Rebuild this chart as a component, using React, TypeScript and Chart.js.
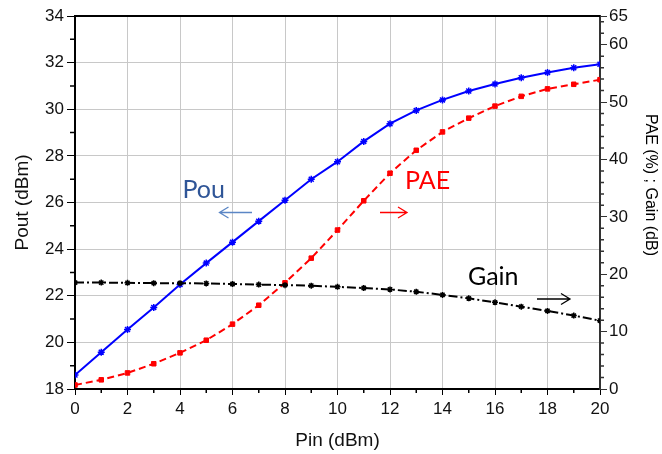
import React, { useEffect, useRef } from "react";
import { Chart, registerables } from "chart.js";

Chart.register(...registerables);

const pinValues = [0, 1, 2, 3, 4, 5, 6, 7, 8, 9, 10, 11, 12, 13, 14, 15, 16, 17, 18, 19, 20];
const poutValues = [18.6, 19.58, 20.55, 21.5, 22.48, 23.4, 24.3, 25.2, 26.1, 27.0, 27.75, 28.62, 29.38, 29.95, 30.4, 30.78, 31.08, 31.35, 31.58, 31.78, 31.93];
const paeValues = [0.7, 1.6, 2.8, 4.4, 6.3, 8.5, 11.3, 14.6, 18.5, 22.8, 27.7, 32.8, 37.6, 41.6, 44.8, 47.2, 49.3, 51.0, 52.3, 53.1, 53.9];
const gainValues = [18.55, 18.55, 18.5, 18.45, 18.45, 18.4, 18.3, 18.2, 18.1, 18.0, 17.8, 17.6, 17.35, 16.95, 16.4, 15.8, 15.1, 14.35, 13.6, 12.8, 11.9];

const xTickValues = [0, 2, 4, 6, 8, 10, 12, 14, 16, 18, 20];
const leftTickValues = [18, 20, 22, 24, 26, 28, 30, 32, 34];
const rightTickValues = [0, 10, 20, 30, 40, 50, 60, 65];
const xMinorTicks = [1, 3, 5, 7, 9, 11, 13, 15, 17, 19];
const leftMinorTicks = [19, 21, 23, 25, 27, 29, 31, 33];
const rightMinorTicks = [2, 4, 6, 8, 12, 14, 16, 18, 22, 24, 26, 28, 32, 34, 36, 38, 42, 44, 46, 48, 52, 54, 56, 58, 62, 64];

const TICK_FONT = { family: "'Liberation Sans', Arial, sans-serif", size: 17 };
const TITLE_FONT = { family: "'Liberation Sans', Arial, sans-serif", size: 19 };

function drawArrow(ctx: CanvasRenderingContext2D, x1: number, x2: number, y: number, color: string, headLeft: boolean) {
  ctx.save();
  ctx.strokeStyle = color;
  ctx.lineWidth = 1.3;
  ctx.setLineDash([]);
  ctx.beginPath();
  ctx.moveTo(x1, y);
  ctx.lineTo(x2, y);
  const hx = headLeft ? x1 : x2;
  const d = headLeft ? 9 : -9;
  ctx.moveTo(hx + d, y - 5.5);
  ctx.lineTo(hx, y);
  ctx.lineTo(hx + d, y + 5.5);
  ctx.stroke();
  ctx.restore();
}

const overlayPlugin = {
  id: "overlay",
  afterDraw(chart: any) {
    const ctx: CanvasRenderingContext2D = chart.ctx;
    const { left, right, top, bottom } = chart.chartArea;
    const xs = chart.scales.x;
    const ys = chart.scales.y;
    const y2 = chart.scales.y2;
    ctx.save();
    // top frame
    ctx.strokeStyle = "#000";
    ctx.lineWidth = 2;
    ctx.beginPath();
    ctx.moveTo(left, top);
    ctx.lineTo(right, top);
    ctx.stroke();
    // minor ticks
    ctx.lineWidth = 1.5;
    ctx.strokeStyle = "#000";
    ctx.beginPath();
    xMinorTicks.forEach((v) => {
      const px = xs.getPixelForValue(v);
      ctx.moveTo(px, bottom);
      ctx.lineTo(px, bottom + 4);
    });
    ctx.stroke();
    ctx.beginPath();
    leftMinorTicks.forEach((v) => {
      const py = ys.getPixelForValue(v);
      ctx.moveTo(left, py);
      ctx.lineTo(left - 5, py);
    });
    ctx.stroke();
    ctx.strokeStyle = "#333";
    ctx.beginPath();
    rightMinorTicks.forEach((v) => {
      const py = y2.getPixelForValue(v);
      ctx.moveTo(right, py);
      ctx.lineTo(right + 4, py);
    });
    ctx.stroke();

    // right title
    ctx.save();
    ctx.translate(650, 185);
    ctx.rotate(Math.PI / 2);
    ctx.fillStyle = "#000";
    ctx.font = "16px 'Liberation Sans', Arial, sans-serif";
    ctx.textAlign = "center";
    ctx.textBaseline = "middle";
    ctx.fillText("PAE (%) ; Gain (dB)", 0, 0);
    ctx.restore();

    // annotations
    ctx.font = "25px Lato, 'Open Sans', sans-serif";
    ctx.textAlign = "left";
    ctx.textBaseline = "alphabetic";
    ctx.fillStyle = "#2F5597";
    ctx.fillText("Pou", 182.5, 197.5);
    ctx.fillStyle = "#FF0000";
    ctx.fillText("PAE", 405, 188.5);
    ctx.fillStyle = "#000000";
    ctx.fillText("Gain", 468, 285);
    drawArrow(ctx, 219.5, 252, 212.5, "#5B86C5", true);
    drawArrow(ctx, 380, 407, 212.5, "#FF0000", false);
    drawArrow(ctx, 537, 570, 299, "#000000", false);
    ctx.restore();
  },
};

export default function App() {
  const canvasRef = useRef<HTMLCanvasElement | null>(null);

  useEffect(() => {
    document.body.style.margin = "0";
    const canvas = canvasRef.current;
    if (!canvas) return;
    const toPoints = (vals: number[]) => vals.map((v, i) => ({ x: pinValues[i], y: v }));
    const chart = new Chart(canvas, {
      type: "line",
      data: {
        datasets: [
          {
            label: "Gain",
            data: toPoints(gainValues),
            yAxisID: "y2",
            borderColor: "#000000",
            backgroundColor: "#000000",
            borderWidth: 2,
            borderDash: [9, 3, 2, 3],
            pointStyle: "star",
            pointRadius: 3,
            pointBorderWidth: 1.5,
            tension: 0,
          },
          {
            label: "PAE",
            data: toPoints(paeValues),
            yAxisID: "y2",
            borderColor: "#FF0000",
            backgroundColor: "#FF0000",
            borderWidth: 2,
            borderDash: [7, 4],
            pointStyle: "rect",
            pointRadius: 3.2,
            pointBorderWidth: 1,
            tension: 0,
          },
          {
            label: "Pout",
            data: toPoints(poutValues),
            yAxisID: "y",
            borderColor: "#0000FF",
            backgroundColor: "#0000FF",
            borderWidth: 2,
            pointStyle: "star",
            pointRadius: 3.5,
            pointBorderWidth: 1.5,
            tension: 0,
          },
        ],
      },
      options: {
        responsive: false,
        animation: false,
        events: [],
        layout: { padding: { top: 16, left: 0, right: 0, bottom: 0 } },
        plugins: {
          legend: { display: false },
          tooltip: { enabled: false },
        },
        scales: {
          x: {
            type: "linear",
            min: 0,
            max: 20,
            afterBuildTicks: (s: any) => {
              s.ticks = xTickValues.map((v) => ({ value: v }));
            },
            afterFit: (s: any) => {
              s.height = 65;
            },
            ticks: { font: TICK_FONT, color: "#111", padding: 4, maxRotation: 0, autoSkip: false },
            grid: { color: "#c8c8c8", lineWidth: 1, tickColor: "#000", tickLength: 6 },
            border: { color: "#000", width: 2 },
            title: { display: true, text: "Pin (dBm)", font: TITLE_FONT, color: "#111", padding: { top: 0, bottom: 2 } },
          },
          y: {
            type: "linear",
            position: "left",
            min: 18,
            max: 34,
            afterBuildTicks: (s: any) => {
              s.ticks = leftTickValues.map((v) => ({ value: v }));
            },
            afterFit: (s: any) => {
              s.width = 75;
            },
            ticks: { font: TICK_FONT, color: "#111", padding: 3, autoSkip: false },
            grid: { color: "#c8c8c8", lineWidth: 1, tickColor: "#000", tickLength: 8 },
            border: { color: "#000", width: 2 },
            title: { display: true, text: "Pout (dBm)", font: TITLE_FONT, color: "#111", padding: { top: 11, bottom: 0 } },
          },
          y2: {
            type: "linear",
            position: "right",
            min: 0,
            max: 65,
            afterBuildTicks: (s: any) => {
              s.ticks = rightTickValues.map((v) => ({ value: v }));
            },
            afterFit: (s: any) => {
              s.width = 62;
            },
            ticks: { font: TICK_FONT, color: "#111", padding: 2, autoSkip: false },
            grid: { drawOnChartArea: false, tickColor: "#333", tickLength: 7 },
            border: { color: "#333", width: 2 },
          },
        },
      },
      plugins: [overlayPlugin],
    } as any);
    return () => chart.destroy();
  }, []);

  return <canvas ref={canvasRef} width={662} height={454} style={{ display: "block" }} />;
}
